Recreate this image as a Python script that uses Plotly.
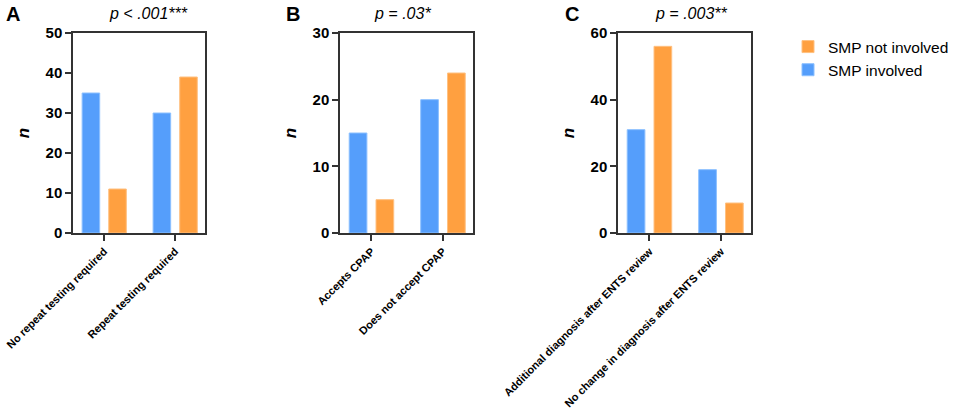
import plotly.graph_objects as go

# panel data
panels = ["A", "B", "C"]
p_labels = ["p < .001***", "p = .03*", "p = .003**"]
categories_a = ["No repeat testing required", "Repeat testing required"]
categories_b = ["Accepts CPAP", "Does not accept CPAP"]
categories_c = ["Additional diagnosis after ENTS review", "No change in diagnosis after ENTS review"]
involved_a = [35, 30]
not_involved_a = [11, 39]
involved_b = [15, 20]
not_involved_b = [5, 24]
involved_c = [31, 19]
not_involved_c = [56, 9]
y_max = [50, 30, 60]
y_dtick = [10, 10, 20]

BLUE = "#559EFB"
ORANGE = "#FFA040"
FONT = "Liberation Sans, Arial, sans-serif"

W, H = 957, 410


def px_x(v):
    return v / W


def px_y(v):
    return 1 - v / H


# pixel extents of each plot area
x_px = [(73, 205), (340, 473), (618, 751)]
y_px = (33, 233)

fig = go.Figure()

cats = [categories_a, categories_b, categories_c]
blue_vals = [involved_a, involved_b, involved_c]
orange_vals = [not_involved_a, not_involved_b, not_involved_c]

for i in range(3):
    xa = "x" if i == 0 else f"x{i + 1}"
    ya = "y" if i == 0 else f"y{i + 1}"
    fig.add_trace(
        go.Bar(
            x=cats[i],
            y=blue_vals[i],
            name="SMP involved",
            marker=dict(color=BLUE, line=dict(color="#8CC0FF", width=1)),
            xaxis=xa,
            yaxis=ya,
            showlegend=(i == 0),
            legendgroup="inv",
        )
    )
    fig.add_trace(
        go.Bar(
            x=cats[i],
            y=orange_vals[i],
            name="SMP not involved",
            marker=dict(color=ORANGE, line=dict(color="#FFC080", width=1)),
            xaxis=xa,
            yaxis=ya,
            showlegend=(i == 0),
            legendgroup="not",
        )
    )

axis_common = dict(
    showline=True,
    linecolor="#333333",
    linewidth=1.5,
    mirror=True,
    ticks="outside",
    ticklen=6,
    tickwidth=1.5,
    tickcolor="#333333",
    showgrid=False,
    zeroline=False,
    automargin=False,
)

layout_axes = {}
for i in range(3):
    sfx = "" if i == 0 else str(i + 1)
    x0, x1 = x_px[i]
    layout_axes[f"xaxis{sfx}"] = dict(
        axis_common,
        domain=[px_x(x0), px_x(x1)],
        anchor=f"y{sfx}",
        type="category",
        range=[-0.44, 1.42],
        tickangle=-45,
        tickfont=dict(family=FONT, size=11, color="black", weight="bold"),
    )
    layout_axes[f"yaxis{sfx}"] = dict(
        axis_common,
        domain=[px_y(y_px[1]), px_y(y_px[0])],
        anchor=f"x{sfx}",
        range=[0, y_max[i]],
        dtick=y_dtick[i],
        tickfont=dict(family=FONT, size=15, color="black", weight="bold"),
        title=dict(
            text="<b><i>n</i></b>",
            font=dict(family=FONT, size=17, color="black"),
            standoff=12,
        ),
    )

annotations = []
letter_x = [13, 293, 572]
p_x = [148, 402, 691]
for i in range(3):
    annotations.append(
        dict(
            text=f"<b>{panels[i]}</b>",
            x=px_x(letter_x[i]),
            y=px_y(14),
            xref="paper",
            yref="paper",
            showarrow=False,
            font=dict(family=FONT, size=20, color="black"),
            xanchor="center",
            yanchor="middle",
        )
    )
    annotations.append(
        dict(
            text=f"<i>{p_labels[i]}</i>",
            x=px_x(p_x[i]),
            y=px_y(13),
            xref="paper",
            yref="paper",
            showarrow=False,
            font=dict(family=FONT, size=16, color="black"),
            xanchor="center",
            yanchor="middle",
        )
    )

fig.update_layout(
    width=W,
    height=H,
    margin=dict(l=0, r=0, t=0, b=0, autoexpand=False),
    paper_bgcolor="white",
    plot_bgcolor="white",
    barmode="group",
    bargap=0.25,
    bargroupgap=0.34,
    showlegend=True,
    legend=dict(
        x=px_x(788),
        y=px_y(30),
        xanchor="left",
        yanchor="top",
        traceorder="reversed",
        font=dict(family=FONT, size=15.5, color="black"),
        itemwidth=30,
        tracegroupgap=4,
    ),
    annotations=annotations,
    **layout_axes,
)

# drop the default page margin so the figure fills the window exactly
fig.write_html(
    "out.html",
    config={"displayModeBar": False},
    post_script="document.body.style.margin = '0';",
)
